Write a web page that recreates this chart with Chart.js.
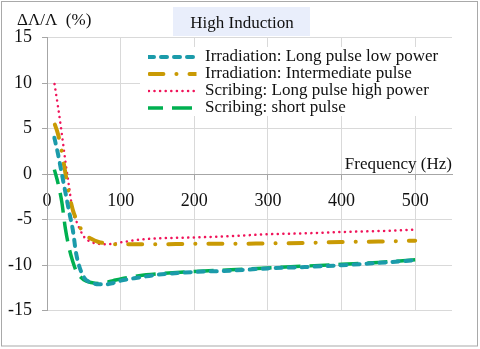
<!DOCTYPE html>
<html>
<head>
<meta charset="utf-8">
<script src="https://cdn.jsdelivr.net/npm/chart.js@4/dist/chart.umd.min.js"></script>
<style>
    html, body { margin: 0; padding: 0; background: #fff; }
    #wrap { position: relative; width: 480px; height: 349px; }
</style>
</head>
<body>
<div id="wrap"><canvas id="chart"></canvas></div>
<script>
// frequency points (Hz) and dLambda/Lambda (%)
const freqs = [10, 15, 20, 25, 30, 35, 40, 50, 60, 70, 80, 90, 100, 125, 150, 200, 250, 300, 350, 400, 450, 500];
const irrLongLow = [4.0, 2.2, 0.1, -2.0, -4.1, -6.1, -8.9, -11.3, -11.9, -12.1, -12.1, -11.95, -11.7, -11.35, -11.05, -10.75, -10.6, -10.35, -10.2, -10.0, -9.75, -9.45];
const irrIntermediate = [5.6, 4.4, 2.5, 0.1, -2.2, -3.9, -5.0, -6.5, -7.1, -7.45, -7.6, -7.7, -7.7, -7.7, -7.7, -7.65, -7.65, -7.6, -7.55, -7.45, -7.4, -7.3];
const scrLongHigh = [10.0, 7.4, 4.5, 1.4, -1.4, -4.1, -5.2, -6.85, -7.45, -7.65, -7.7, -7.65, -7.5, -7.2, -7.05, -6.95, -6.8, -6.6, -6.5, -6.35, -6.25, -6.1];
const scrShort = [0.5, -1.0, -3.0, -6.0, -8.1, -9.6, -10.7, -11.6, -11.9, -12.0, -11.9, -11.7, -11.5, -11.15, -10.95, -10.7, -10.5, -10.3, -10.1, -9.9, -9.7, -9.4];

const seriesLabels = [
    'Irradiation: Long pulse low power',
    'Irradiation: Intermediate pulse',
    'Scribing: Long pulse high power',
    'Scribing: short pulse',
];
const yTicks = { min: -15, max: 15, step: 5 };
const xTicks = { min: 0, max: 550, step: 100 };

const serif = 'Liberation Serif';
const toPoints = (arr) => freqs.map((f, i) => ({ x: f, y: arr[i] }));

// white box behind the legend, legend moved to upper right of the plot
const legendSpot = {
    id: 'legendSpot',
    afterLayout(chart) {
        const lg = chart.legend;
        lg.left = 148;
        lg.top = 48.5;
        if (!lg._bgWrapped) {
            const orig = lg.draw;
            lg.draw = function (area) {
                const c = this.ctx;
                c.save();
                c.fillStyle = '#ffffff';
                c.fillRect(140, 47, 312, 69);
                c.restore();
                orig.call(this, area);
            };
            lg._bgWrapped = true;
        }
    },
    beforeDraw(chart) {
        // x axis sits on y = 0, make sure its items use the final y scale
        const sx = chart.scales.x;
        sx._labelItems = null;
        sx._gridLineItems = null;
    },
};

// title with its box, axis captions and frame
const decorations = {
    id: 'decorations',
    beforeDraw(chart) {
        const c = chart.ctx;
        c.save();
        c.fillStyle = '#e9eefb';
        c.fillRect(173, 7, 137, 29);
        c.restore();
    },
    afterDraw(chart) {
        const c = chart.ctx;
        c.save();
        c.fillStyle = '#111';
        c.font = `17px "${serif}"`;
        c.textBaseline = 'middle';
        c.textAlign = 'center';
        c.fillText('High Induction', 242, 24);
        c.textAlign = 'left';
        c.fillText('ΔΛ/Λ  (%)', 17, 21);
        c.textAlign = 'right';
        c.fillText('Frequency (Hz)', chart.chartArea.right, 165);
        c.strokeStyle = '#a9a9a9';
        c.lineWidth = 1;
        c.strokeRect(1.5, 1.5, 476, 344.5);
        c.restore();
    },
};

const gridColor = '#d9d9d9';
const axisColor = '#a6a6a6';

new Chart(document.getElementById('chart'), {
    type: 'line',
    data: {
        datasets: [
            {
                label: seriesLabels[0],
                data: toPoints(irrLongLow),
                borderColor: '#1b9baa',
                borderWidth: 4,
                borderDash: [6, 7],
                borderCapStyle: 'round',
            },
            {
                label: seriesLabels[1],
                data: toPoints(irrIntermediate),
                borderColor: '#c99a04',
                borderWidth: 4,
                borderDash: [14, 13, 0.1, 13],
                borderDashOffset: -1.4,
                borderCapStyle: 'round',
            },
            {
                label: seriesLabels[2],
                data: toPoints(scrLongHigh),
                borderColor: '#f0145a',
                borderWidth: 2.5,
                borderDash: [0.1, 5.5],
                borderDashOffset: -0.85,
                borderCapStyle: 'round',
            },
            {
                label: seriesLabels[3],
                data: toPoints(scrShort),
                borderColor: '#00b050',
                borderWidth: 3.5,
                borderDash: [20, 9],
                borderDashOffset: 5,
                borderCapStyle: 'butt',
            },
        ],
    },
    options: {
        responsive: true,
        maintainAspectRatio: false,
        animation: false,
        layout: { padding: { left: 0, right: 28, top: 37.7, bottom: 38.3 } },
        elements: {
            point: { radius: 0, hoverRadius: 0 },
            line: { fill: false, cubicInterpolationMode: 'monotone' },
        },
        plugins: {
            legend: {
                position: 'chartArea',
                align: 'start',
                labels: {
                    boxWidth: 48.5,
                    boxHeight: 0,
                    padding: 0,
                    color: '#111',
                    font: { family: serif, size: 17 },
                },
            },
            tooltip: { enabled: false },
        },
        scales: {
            x: {
                type: 'linear',
                position: { y: 0 },
                min: xTicks.min,
                max: xTicks.max,
                ticks: {
                    stepSize: xTicks.step,
                    includeBounds: false,
                    autoSkip: false,
                    color: '#111',
                    padding: 11,
                    maxRotation: 0,
                    font: { family: serif, size: 18 },
                },
                grid: { color: gridColor, tickColor: axisColor, tickLength: 5 },
                border: { color: axisColor, width: 1 },
            },
            y: {
                min: yTicks.min,
                max: yTicks.max,
                ticks: {
                    stepSize: yTicks.step,
                    color: '#111',
                    padding: 10,
                    font: { family: serif, size: 18 },
                },
                grid: { color: gridColor, tickColor: axisColor, tickLength: 5 },
                border: { color: axisColor, width: 1 },
                afterFit: (s) => { s.width = 47; },
            },
        },
    },
    plugins: [legendSpot, decorations],
});
</script>
</body>
</html>
